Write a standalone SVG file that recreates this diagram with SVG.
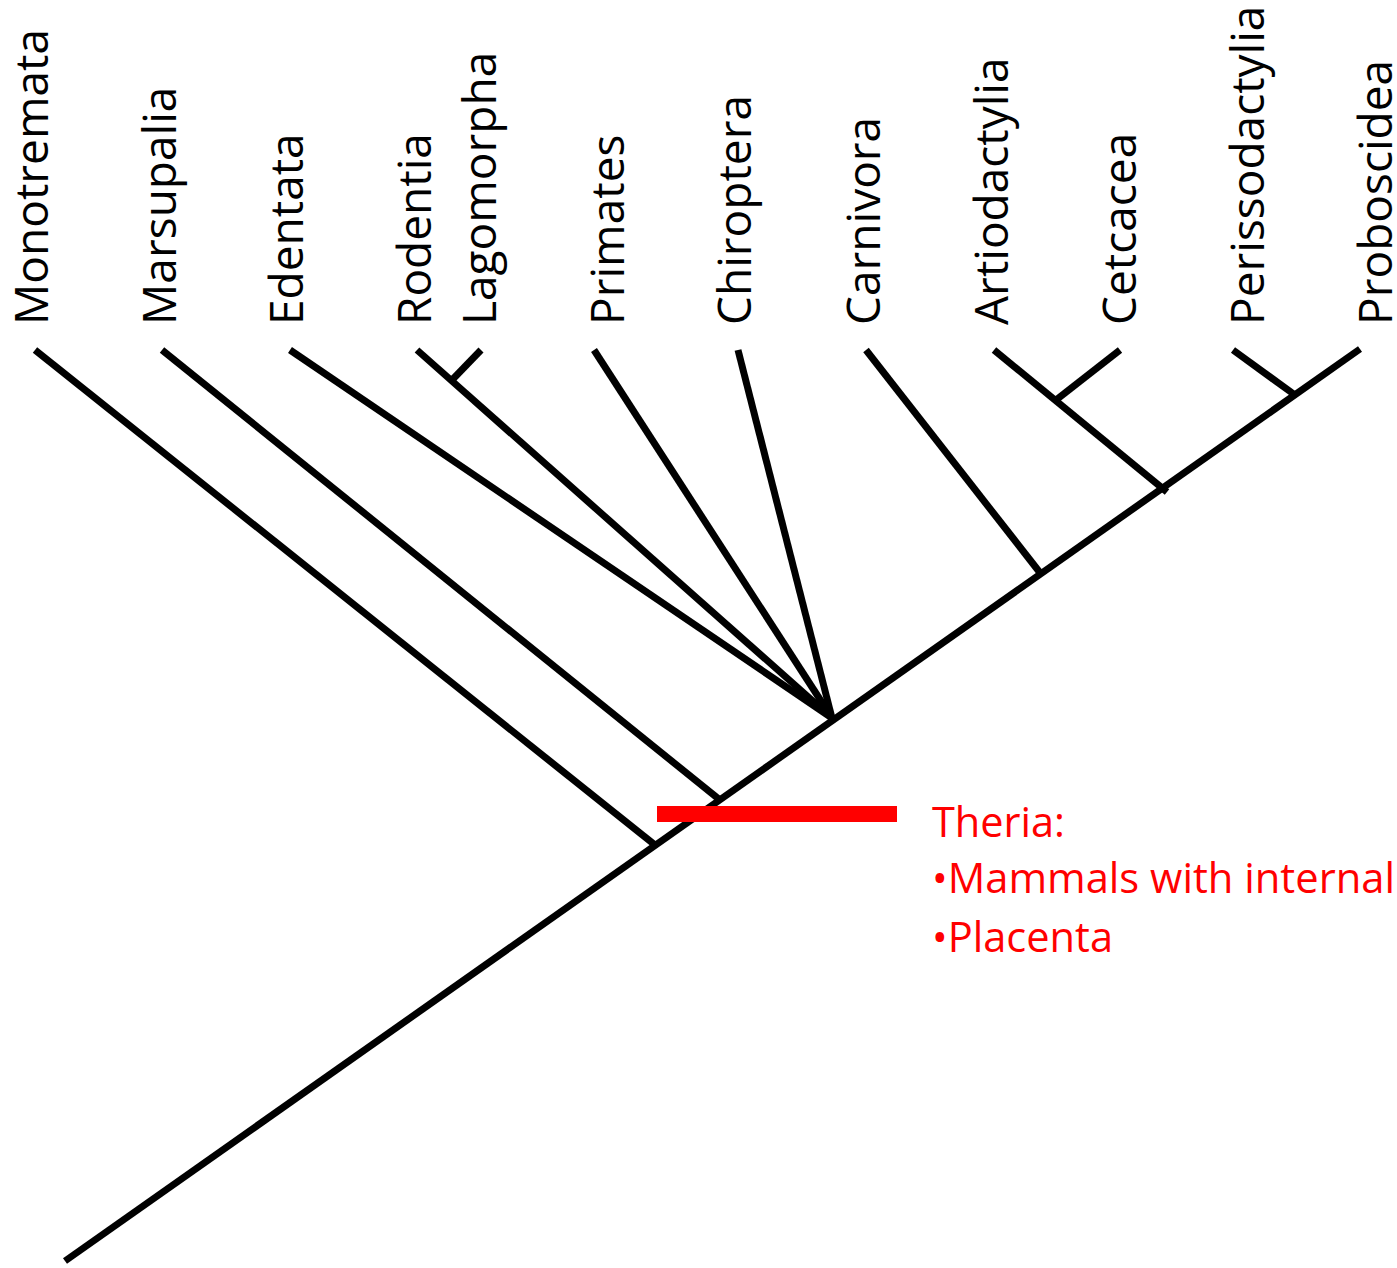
<svg xmlns="http://www.w3.org/2000/svg" width="1397" height="1268" viewBox="0 0 1397 1268">
<style>
.lbl{font-family:"Open Sans","Noto Sans","DejaVu Sans",sans-serif;font-size:46px;fill:#000}
.br{stroke:#000;stroke-width:7;fill:none;stroke-linecap:butt}
.note{font-family:"Open Sans","Noto Sans",sans-serif;font-size:42px;fill:#FF0000}
</style>
<rect width="1397" height="1268" fill="#fff"/>
<g id="labels">
<g id="n-monotremata"><text class="lbl" transform="translate(48,325) rotate(-90)">Monotremata</text></g>
<g id="n-marsupalia"><text class="lbl" transform="translate(176,325) rotate(-90)">Marsupalia</text></g>
<g id="n-edentata"><text class="lbl" transform="translate(303,325) rotate(-90)">Edentata</text></g>
<g id="n-rodentia"><text class="lbl" transform="translate(431,325) rotate(-90)">Rodentia</text></g>
<g id="n-lagomorpha"><text class="lbl" transform="translate(496,325) rotate(-90)">Lagomorpha</text></g>
<g id="n-primates"><text class="lbl" transform="translate(624,325) rotate(-90)">Primates</text></g>
<g id="n-chiroptera"><text class="lbl" transform="translate(751,325) rotate(-90)">Chiroptera</text></g>
<g id="n-carnivora"><text class="lbl" transform="translate(880,325) rotate(-90)">Carnivora</text></g>
<g id="n-artiodactylia"><text class="lbl" transform="translate(1008,325) rotate(-90)">Artiodactylia</text></g>
<g id="n-cetcacea"><text class="lbl" transform="translate(1136,325) rotate(-90)">Cetcacea</text></g>
<g id="n-perissodactylia"><text class="lbl" transform="translate(1264,325) rotate(-90)">Perissodactylia</text></g>
<g id="n-proboscidea"><text class="lbl" transform="translate(1392,325) rotate(-90)">Proboscidea</text></g>
</g>
<g id="connectors">
<line class="br" x1="65" y1="1261" x2="1360" y2="349"/>
<line class="br" x1="35" y1="350" x2="655" y2="845"/>
<line class="br" x1="162" y1="350" x2="720" y2="800"/>
<line class="br" x1="290" y1="350" x2="832" y2="718"/>
<line class="br" x1="417" y1="350" x2="832" y2="718"/>
<line class="br" x1="481" y1="350" x2="452" y2="380"/>
<line class="br" x1="594" y1="350" x2="832" y2="718"/>
<line class="br" x1="738" y1="350" x2="832" y2="718"/>
<line class="br" x1="866" y1="350" x2="1041" y2="574"/>
<line class="br" x1="994" y1="350" x2="1167" y2="492"/>
<line class="br" x1="1120" y1="350" x2="1056" y2="400"/>
<line class="br" x1="1233" y1="350" x2="1295" y2="395"/>
</g>
<g id="theria">
<rect x="657" y="806" width="240" height="16" fill="#FF0000"/>
<text class="note" x="932" y="837" textLength="133" lengthAdjust="spacingAndGlyphs">Theria:</text>
<text class="note" x="932" y="893" textLength="463" lengthAdjust="spacingAndGlyphs">•Mammals with internal</text>
<text class="note" x="932" y="952" textLength="181" lengthAdjust="spacingAndGlyphs">•Placenta</text>
</g>
</svg>
